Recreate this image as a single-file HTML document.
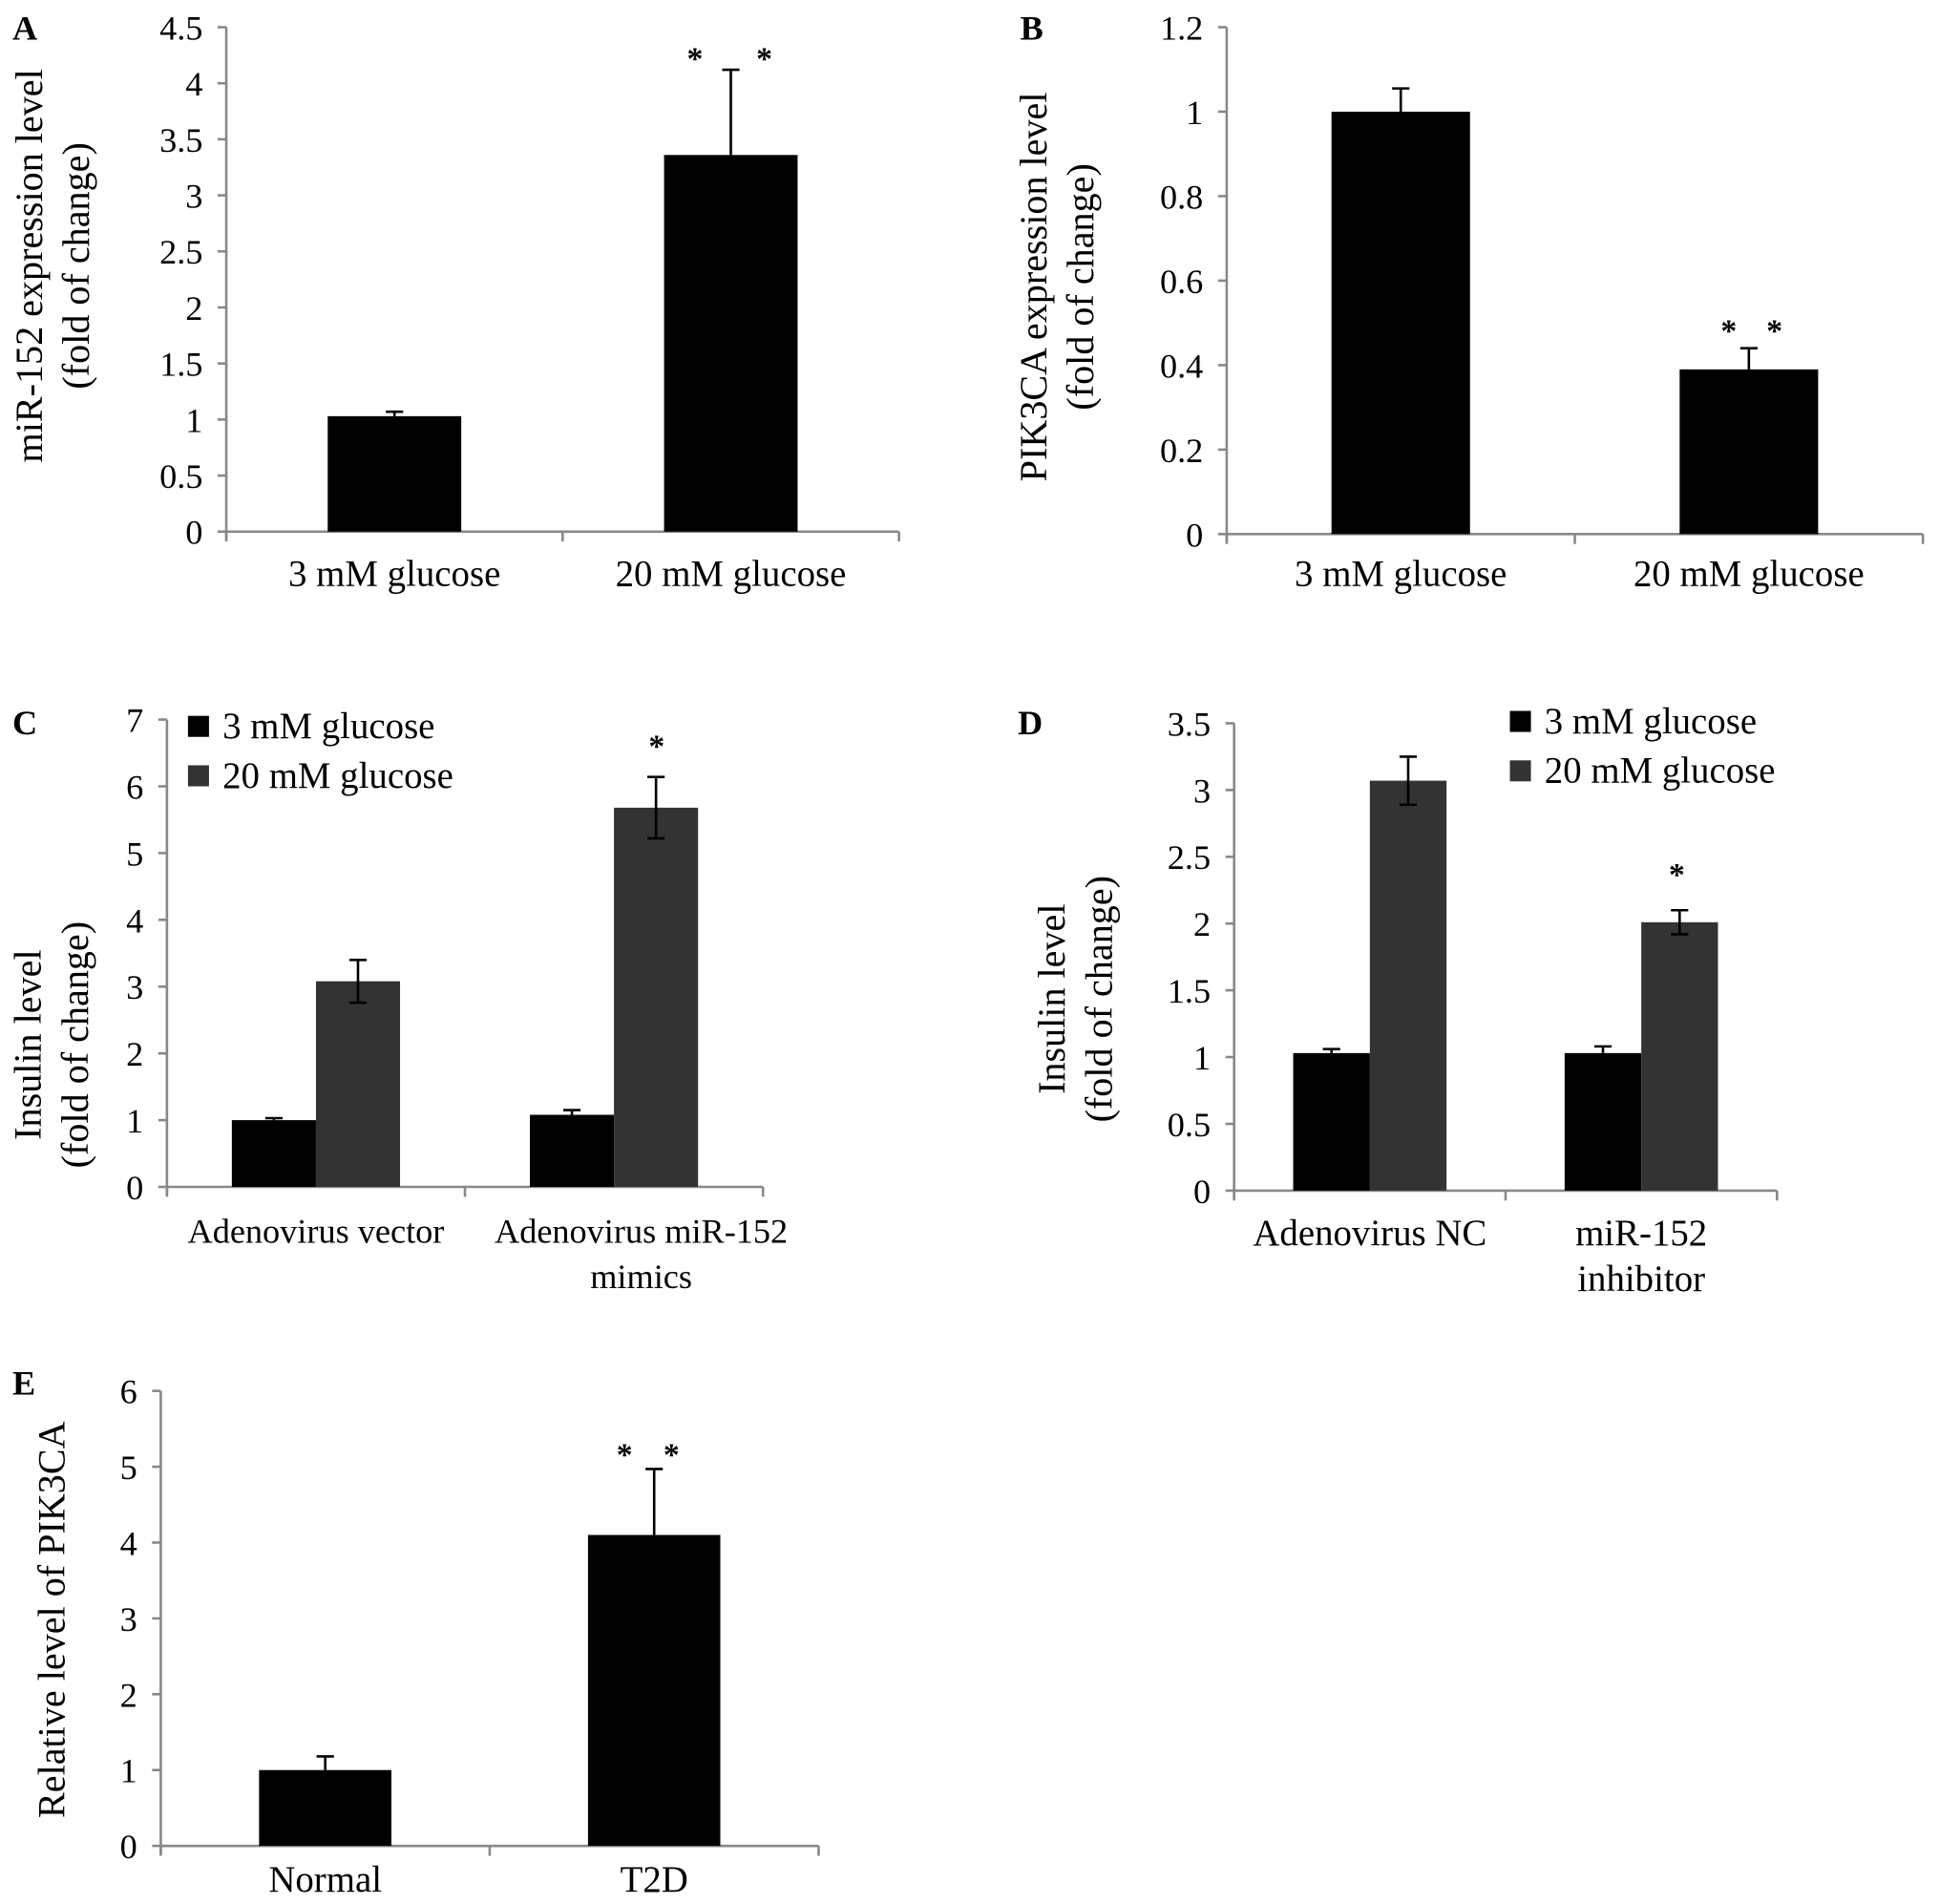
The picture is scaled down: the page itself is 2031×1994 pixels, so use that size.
<!DOCTYPE html>
<html><head><meta charset="utf-8"><style>
html,body{margin:0;padding:0;background:#fff;}
svg{display:block;}
text{font-family:"Liberation Serif",serif;fill:#000;}
</style></head><body>
<svg id="fig" xmlns="http://www.w3.org/2000/svg" width="2031" height="1994" viewBox="0 0 1568 1540" preserveAspectRatio="none"></svg>
<script>
// Panel A
const catsA = ["3 mM glucose", "20 mM glucose"];
const valsA = [1.03, 3.36];
const errA = [0.04, 0.76];
const ticksA = ["0","0.5","1","1.5","2","2.5","3","3.5","4","4.5"];
// Panel B
const catsB = ["3 mM glucose", "20 mM glucose"];
const valsB = [1.0, 0.39];
const errB = [0.055, 0.05];
const ticksB = ["0","0.2","0.4","0.6","0.8","1","1.2"];
// Panel C
const catsC = [["Adenovirus vector"], ["Adenovirus miR-152","mimics"]];
const valsC3 = [1.0, 1.08];
const errC3 = [0.03, 0.07];
const valsC20 = [3.08, 5.68];
const errC20 = [0.32, 0.46];
const ticksC = ["0","1","2","3","4","5","6","7"];
// Panel D
const catsD = [["Adenovirus NC"], ["miR-152","inhibitor"]];
const valsD3 = [1.03, 1.03];
const errD3 = [0.03, 0.05];
const valsD20 = [3.07, 2.01];
const errD20 = [0.18, 0.09];
const ticksD = ["0","0.5","1","1.5","2","2.5","3","3.5"];
// Panel E
const catsE = ["Normal", "T2D"];
const valsE = [1.0, 4.1];
const errE = [0.18, 0.87];
const ticksE = ["0","1","2","3","4","5","6"];

const NS = "http://www.w3.org/2000/svg";
const svg = document.getElementById("fig");
function mk(tag, attrs, parent, txt){
  const e = document.createElementNS(NS, tag);
  for (const k in attrs) e.setAttribute(k, attrs[k]);
  if (txt !== undefined) e.textContent = txt;
  (parent || svg).appendChild(e);
  return e;
}

function panel(cfg){
  const g = mk("g", {});
  
  
  const ymax = parseFloat(cfg.ticks[cfg.ticks.length-1]);
  const y = v => cfg.y0 - (v / ymax) * (cfg.y0 - cfg.yTop);
  const L = mk("text", {x: cfg.letter[0], y: cfg.letter[1], "font-size": 28, "font-weight": "bold"}, g, cfg.letterText);
  
  
  const ya = mk("line", {x1: cfg.x0, x2: cfg.x0, y1: cfg.yTop, y2: cfg.y0 + 6, stroke: "#888", "stroke-width": 2}, g);
  
  
  cfg.ticks.forEach(t => {
    const yy = y(parseFloat(t));
    mk("line", {x1: cfg.x0 - 7, x2: cfg.x0, y1: yy, y2: yy, stroke: "#888", "stroke-width": 2}, g);
    const tl = mk("text", {x: cfg.x0 - 19, y: yy + 10, "font-size": 28, "text-anchor": "end"}, g, t);
    
    
  });
  const xa = mk("line", {x1: cfg.x0, x2: cfg.x1, y1: cfg.y0, y2: cfg.y0, stroke: "#888", "stroke-width": 2}, g);
  
  
  const n = cfg.cats.length;
  const step = (cfg.x1 - cfg.x0) / n;
  for (let i = 0; i <= n; i++){
    const xx = cfg.x0 + i*step;
    mk("line", {x1: xx, x2: xx, y1: cfg.y0, y2: cfg.y0 + 8, stroke: "#888", "stroke-width": 2}, g);
  }
  cfg.series.forEach((s, si) => {
    s.vals.forEach((v, i) => {
      const cx = cfg.x0 + (i + 0.5)*step;
      const bx = cx + cfg.barOff[si] - cfg.barW/2;
      const r = mk("rect", {x: bx, y: y(v), width: cfg.barW, height: cfg.y0 - y(v), fill: s.color}, g);
      
      
      const bc = bx + cfg.barW/2;
      const e = s.err[i];
      const top = y(v + e), bot = s.both ? y(v - e) : y(v);
      const el = mk("path", {d: `M${bc},${bot} L${bc},${top} M${bc-7},${top} L${bc+7},${top}` + (s.both ? ` M${bc-7},${bot} L${bc+7},${bot}` : ""), stroke: "#000", "stroke-width": 2, fill: "none"}, g);
      
      
    });
  });
  cfg.cats.forEach((c, i) => {
    const off = cfg.catOffs ? cfg.catOffs[i] : (cfg.catOff || 0);
    const cx = cfg.x0 + (i + 0.5)*step + off;
    const lines = Array.isArray(c) ? c : [c];
    lines.forEach((ln, li) => {
      const t = mk("text", {x: cx, y: cfg.catY + li*37, "font-size": cfg.catFont || 30, "text-anchor": "middle"}, g, ln);
      
      
    });
  });
  (cfg.stars || []).forEach(st => {
    const t = mk("text", {x: st[0], y: st[1], "font-size": 26, "text-anchor": "middle", "font-weight": "bold"}, g, "*");
    
    
  });
  cfg.ytitle.forEach((ln, li) => {
    const xx = cfg.ytX + li*38;
    const t = mk("text", {x: xx, y: cfg.ytY, "font-size": 31, "text-anchor": "middle", transform: `rotate(-90 ${xx} ${cfg.ytY})`}, g, ln);
    
    
  });
  if (cfg.legend){
    cfg.series.forEach((s, si) => {
      const [lx, ly] = [cfg.legend[0], cfg.legend[1] + si*40];
      const sq = mk("rect", {x: lx, y: ly - 18, width: 17, height: 17, fill: s.color}, g);
      
      
      const t = mk("text", {x: lx + 28, y: ly, "font-size": 30}, g, s.label);
      
      
    });
  }
}

panel({name:"panel-a", letterText:"A", letter:[10,32], x0:183, x1:727, y0:430, yTop:22, ticks:ticksA,
  cats:catsA, barW:108, barOff:[0], catY:474,
  series:[{key:"a", vals:valsA, err:errA, color:"#000", both:false}],
  stars:[[562,56],[618,56]], ytitle:["miR-152 expression level","(fold of change)"], ytX:34, ytY:215});

panel({name:"panel-b", letterText:"B", letter:[825,32], x0:992, x1:1555, y0:432, yTop:22, ticks:ticksB,
  cats:catsB, barW:112, barOff:[0], catY:474,
  series:[{key:"b", vals:valsB, err:errB, color:"#000", both:false}],
  stars:[[1398,276],[1435,276]], ytitle:["PIK3CA expression level","(fold of change)"], ytX:846, ytY:232});

panel({name:"panel-c", letterText:"C", letter:[10,594], x0:135, x1:617, y0:960, yTop:582, ticks:ticksC,
  cats:catsC, barW:68, barOff:[-34,34], catY:1005, catOffs:[0, 22], catFont:28,
  series:[{key:"3mM", label:"3 mM glucose", vals:valsC3, err:errC3, color:"#000", both:false},
          {key:"20mM", label:"20 mM glucose", vals:valsC20, err:errC20, color:"#333", both:true}],
  stars:[[531,612]], ytitle:["Insulin level","(fold of change)"], ytX:33, ytY:845, legend:[152,597]});

panel({name:"panel-d", letterText:"D", letter:[823,594], x0:998, x1:1437, y0:963, yTop:585, ticks:ticksD,
  cats:catsD, barW:62, barOff:[-31,31], catY:1007,
  series:[{key:"3mM", label:"3 mM glucose", vals:valsD3, err:errD3, color:"#000", both:false},
          {key:"20mM", label:"20 mM glucose", vals:valsD20, err:errD20, color:"#333", both:true}],
  stars:[[1356,716]], ytitle:["Insulin level","(fold of change)"], ytX:861, ytY:808, legend:[1221,593]});

panel({name:"panel-e", letterText:"E", letter:[10,1128], x0:130, x1:662, y0:1493, yTop:1125, ticks:ticksE,
  cats:catsE, barW:107, barOff:[0], catY:1530, catOff:0,
  series:[{key:"e", vals:valsE, err:errE, color:"#000", both:false}],
  stars:[[505,1185],[543,1185]], ytitle:["Relative level of PIK3CA"], ytX:52, ytY:1310});
</script>
</body></html>
